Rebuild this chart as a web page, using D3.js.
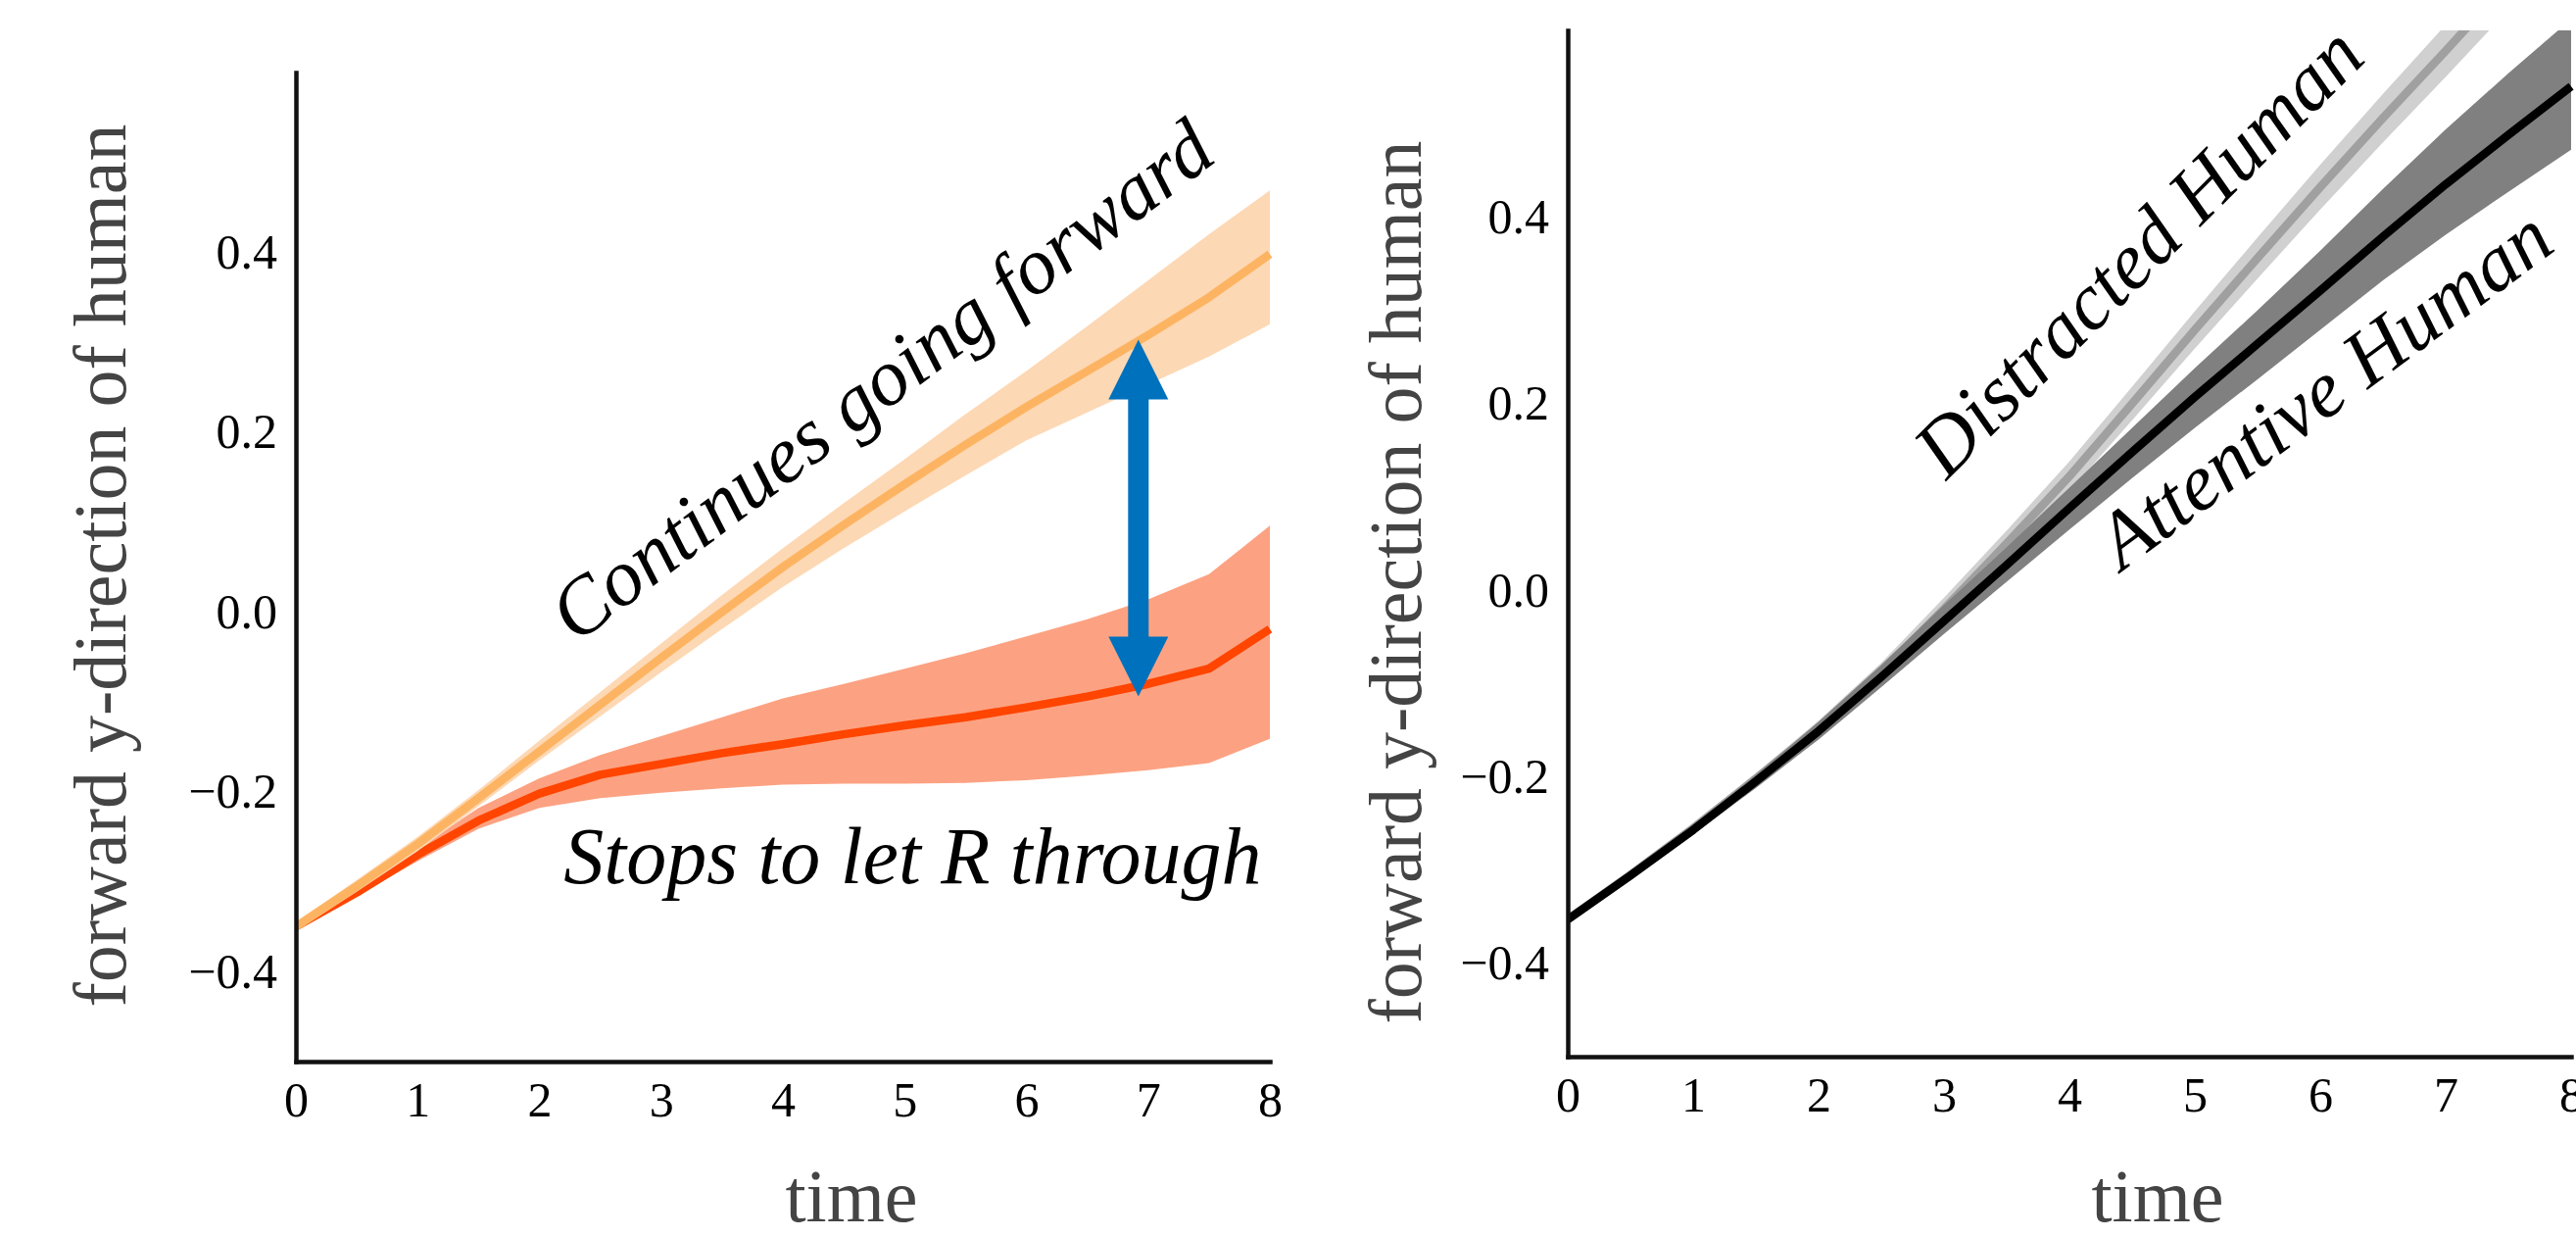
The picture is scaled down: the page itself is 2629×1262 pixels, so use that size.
<!doctype html>
<html>
  <head>
    <meta charset="utf-8">
    <title>forward y-direction of human</title>
    <script src="https://d3js.org/d3.v7.min.js"></script>
    <style>
      body { margin: 0; background: #fff; }
      svg text { font-family: "Liberation Serif", "DejaVu Serif", serif; }
      .axis path { stroke: #111; stroke-width: 4.5px; stroke-linecap: square; }
      .axis text { font-size: 50px; fill: #000; }
      .axis-label { font-size: 76px; fill: #444; }
      .note { font-size: 82px; font-style: italic; fill: #000; }
    </style>
  </head>
  <body>
    <div id="chart"></div>
    <script>
    // time steps shared by every series
    var times = [0, 0.5, 1, 1.5, 2, 2.5, 3, 3.5, 4, 4.5, 5, 5.5, 6, 6.5, 7, 7.5, 8];

    // left: continues going forward (orange)
    var goingMean  = [-0.350, -0.305, -0.258, -0.207, -0.155, -0.103, -0.051, 0.000, 0.050, 0.097, 0.142, 0.186, 0.228, 0.268, 0.308, 0.350, 0.398];
    var goingUpper = [-0.345, -0.298, -0.250, -0.198, -0.143, -0.089, -0.035, 0.019, 0.071, 0.121, 0.170, 0.220, 0.268, 0.318, 0.369, 0.420, 0.469];
    var goingLower = [-0.355, -0.311, -0.266, -0.216, -0.165, -0.116, -0.067, -0.019, 0.028, 0.071, 0.112, 0.152, 0.191, 0.222, 0.253, 0.284, 0.320];

    // left: stops to let R through (red)
    var stopMean  = [-0.350, -0.312, -0.270, -0.232, -0.202, -0.181, -0.169, -0.157, -0.147, -0.136, -0.126, -0.117, -0.106, -0.094, -0.080, -0.063, -0.019];
    var stopUpper = [-0.348, -0.308, -0.263, -0.218, -0.185, -0.159, -0.138, -0.117, -0.096, -0.080, -0.063, -0.046, -0.027, -0.008, 0.014, 0.042, 0.096];
    var stopLower = [-0.352, -0.316, -0.277, -0.241, -0.218, -0.207, -0.201, -0.196, -0.192, -0.191, -0.191, -0.190, -0.187, -0.182, -0.176, -0.168, -0.141];

    // right: attentive human (black)
    var attMean  = [-0.353, -0.306, -0.257, -0.205, -0.151, -0.093, -0.033, 0.027, 0.088, 0.148, 0.207, 0.264, 0.321, 0.379, 0.435, 0.488, 0.540];
    var attUpper = [-0.351, -0.303, -0.252, -0.198, -0.141, -0.080, -0.016, 0.046, 0.110, 0.174, 0.238, 0.300, 0.364, 0.430, 0.494, 0.554, 0.612];
    var attLower = [-0.355, -0.309, -0.262, -0.212, -0.160, -0.104, -0.047, 0.009, 0.065, 0.120, 0.174, 0.226, 0.279, 0.332, 0.381, 0.427, 0.472];

    // right: distracted human (grey)
    var disMean  = [-0.353, -0.305, -0.255, -0.202, -0.148, -0.088, -0.020, 0.050, 0.122, 0.200, 0.279, 0.356, 0.432, 0.506, 0.578, 0.652, 0.727];
    var disUpper = [-0.351, -0.302, -0.251, -0.196, -0.140, -0.078, -0.008, 0.064, 0.138, 0.218, 0.299, 0.378, 0.456, 0.532, 0.606, 0.682, 0.759];
    var disLower = [-0.355, -0.308, -0.259, -0.208, -0.156, -0.098, -0.032, 0.036, 0.106, 0.182, 0.259, 0.334, 0.408, 0.480, 0.550, 0.622, 0.695];

    var xTicks = [0, 1, 2, 3, 4, 5, 6, 7, 8];
    var yTicks = [-0.4, -0.2, 0.0, 0.2, 0.4];
    var xDomain = [0, 8];
    var yDomain = [-0.5, 0.6];

    // blue double arrow (time, from, to)
    var gapArrow = [6.92, 0.303, -0.094];

    var svg = d3.select("#chart").append("svg")
                .attr("width", 2629)
                .attr("height", 1262);

    function series(mean, upper, lower) {
        return times.map(function (t, i) {
            return { t: t, m: mean[i], hi: upper[i], lo: lower[i] };
        });
    }

    function panel(id, box, bands, notes) {
        var x = d3.scaleLinear().domain(xDomain).range([box.left, box.right]);
        var y = d3.scaleLinear().domain(yDomain).range([box.bottom, box.top]);

        svg.append("clipPath").attr("id", id)
           .append("rect")
           .attr("x", box.left).attr("y", box.top)
           .attr("width", box.right - box.left + 40)
           .attr("height", box.bottom - box.top);

        var plot = svg.append("g").attr("clip-path", "url(#" + id + ")");

        var area = d3.area()
                     .x(function (d) { return x(d.t); })
                     .y0(function (d) { return y(d.lo); })
                     .y1(function (d) { return y(d.hi); });
        var line = d3.line()
                     .x(function (d) { return x(d.t); })
                     .y(function (d) { return y(d.m); });

        bands.forEach(function (b) {
            plot.append("path").datum(b.data)
                .attr("d", area)
                .style("fill", b.fill);
            plot.append("path").datum(b.data)
                .attr("d", line)
                .style("fill", "none")
                .style("stroke", b.stroke)
                .style("stroke-width", 8.5)
                .style("stroke-linejoin", "round");
        });

        notes.forEach(function (n) {
            svg.append("text")
               .attr("class", "note")
               .attr("transform", "translate(" + x(n.t) + "," + y(n.v) + ") rotate(" + n.angle + ")")
               .text(n.text);
        });

        svg.append("g")
           .attr("class", "axis")
           .attr("transform", "translate(0," + box.bottom + ")")
           .call(d3.axisBottom(x).tickValues(xTicks).tickSize(0).tickSizeOuter(0)
                   .tickPadding(20).tickFormat(d3.format("d")));

        svg.append("g")
           .attr("class", "axis")
           .attr("transform", "translate(" + box.left + ",0)")
           .call(d3.axisLeft(y).tickValues(yTicks).tickSize(0).tickSizeOuter(0)
                   .tickPadding(19).tickFormat(d3.format(".1f")));

        svg.append("text")
           .attr("class", "axis-label")
           .attr("text-anchor", "middle")
           .attr("transform", "translate(" + box.ylabelX + "," + box.ylabelY + ") rotate(-90)")
           .text("forward y-direction of human");

        svg.append("text")
           .attr("class", "axis-label")
           .attr("text-anchor", "middle")
           .attr("x", box.xlabelX)
           .attr("y", 1246)
           .text("time");

        return { x: x, y: y };
    }

    var left = panel("clipLeft",
        { left: 302, right: 1296, top: 74, bottom: 1083, ylabelX: 128, ylabelY: 577, xlabelX: 869 },
        [
            { data: series(stopMean, stopUpper, stopLower), fill: "#fca282", stroke: "#ff4500" },
            { data: series(goingMean, goingUpper, goingLower), fill: "#fdd8b4", stroke: "#fdb462" }
        ],
        [
            { text: "Continues going forward", t: 2.30, v: -0.036, angle: -37 },
            { text: "Stops to let R through", t: 2.20, v: -0.302, angle: 0 }
        ]);

    panel("clipRight",
        { left: 1600, right: 2624, top: 31, bottom: 1078, ylabelX: 1450, ylabelY: 594, xlabelX: 2202 },
        [
            { data: series(disMean, disUpper, disLower), fill: "#d0d0d0", stroke: "#a0a0a0" },
            { data: series(attMean, attUpper, attLower), fill: "#808080", stroke: "#000" }
        ],
        [
            { text: "Distracted Human", t: 3.02, v: 0.117, angle: -45 },
            { text: "Attentive Human", t: 4.42, v: 0.020, angle: -36.5 }
        ]);

    // double headed arrow between the two outcomes
    var arrowX = left.x(gapArrow[0]),
        arrowTop = left.y(gapArrow[1]),
        arrowBottom = left.y(gapArrow[2]),
        head = 61, halfHead = 30.5, halfShaft = 10.5;
    var pts = [
        [arrowX, arrowTop], [arrowX + halfHead, arrowTop + head], [arrowX + halfShaft, arrowTop + head],
        [arrowX + halfShaft, arrowBottom - head], [arrowX + halfHead, arrowBottom - head], [arrowX, arrowBottom],
        [arrowX - halfHead, arrowBottom - head], [arrowX - halfShaft, arrowBottom - head],
        [arrowX - halfShaft, arrowTop + head], [arrowX - halfHead, arrowTop + head]
    ];
    svg.append("path")
       .attr("d", "M" + pts.join("L") + "Z")
       .style("fill", "#0071bd");
    </script>
  </body>
</html>
